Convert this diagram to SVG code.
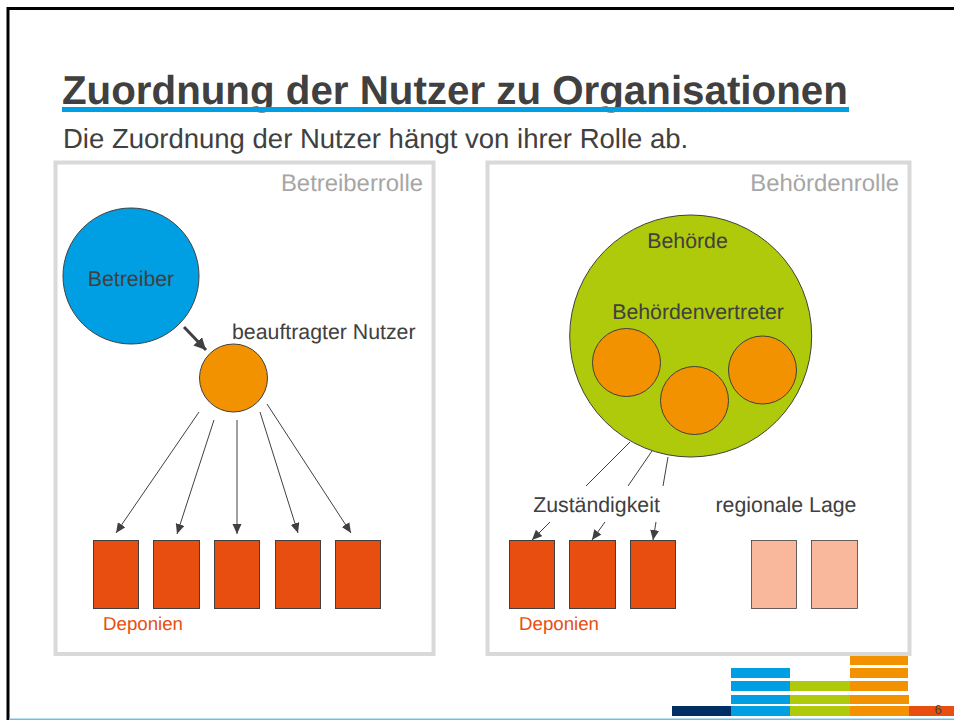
<svg xmlns="http://www.w3.org/2000/svg" width="954" height="720" viewBox="0 0 954 720">
<style>
text{font-family:"Liberation Sans",Arial,sans-serif;fill:#404040;font-size:21.3px;text-rendering:geometricPrecision}
.panel{fill:#fff;stroke:#d9d9d9;stroke-width:4}
.role{fill:#a6a6a6;font-size:23.9px;text-anchor:end}
.red{fill:#e84e0f;stroke:#404040;stroke-width:1}
.pale{fill:#f9b89c;stroke:#404040;stroke-width:.8}
.org{fill:#f39200;stroke:#404040;stroke-width:1}
.dep{font-size:18.700px}
.c{stroke:#404040;stroke-width:1;fill:none}
.a{marker-end:url(#ah)}
</style>
<defs>
<marker id="ah" markerUnits="userSpaceOnUse" markerWidth="11" markerHeight="10" refX="10" refY="4.5" orient="auto"><path d="M0 0L10 4.5L0 9Z" fill="#404040"/></marker>
<marker id="ah2" markerUnits="userSpaceOnUse" markerWidth="13" markerHeight="12" refX="12" refY="6" orient="auto"><path d="M0 0L12 6L0 12Z" fill="#404040"/></marker>
</defs>
<rect width="954" height="720" fill="#fff"/>
<path d="M8 720V8.500H954" fill="none" stroke="#000" stroke-width="3"/>
<rect x="9" y="718.500" width="945" height="1.500" fill="#6fbfe3"/>
<g id="title">
<text x="62" y="104" style="font-size:40.300px;font-weight:bold">Zuordnung der Nutzer zu Organisationen</text>
<rect x="62" y="107" width="787" height="5" fill="#009fe3"/>
<text x="63" y="148" style="font-size:27.500px">Die Zuordnung der Nutzer hängt von ihrer Rolle ab.</text>
</g>
<g id="panel-betreiber"><rect class="panel" x="55.500" y="162.500" width="378" height="491.500"/><text class="role" x="423" y="191">Betreiberrolle</text></g>
<g id="panel-behoerde"><rect class="panel" x="487.500" y="162.500" width="422" height="491.500"/><text class="role" x="899" y="191">Behördenrolle</text></g>
<g id="connectors">
<line class="c" x1="184" y1="327" x2="206" y2="350" style="stroke-width:3;marker-end:url(#ah2)"/>
<line class="c a" x1="199" y1="412" x2="116" y2="533"/>
<line class="c a" x1="214" y1="420" x2="177" y2="534"/>
<line class="c a" x1="237" y1="420" x2="237" y2="534"/>
<line class="c a" x1="260" y1="412" x2="298" y2="533"/>
<line class="c a" x1="267" y1="404" x2="351" y2="533"/>
<line class="c" x1="630" y1="442" x2="586" y2="486"/>
<line class="c" x1="652" y1="451" x2="628" y2="486"/>
<line class="c" x1="668" y1="457" x2="663" y2="486"/>
<line class="c a" x1="550" y1="522" x2="532" y2="540"/>
<line class="c a" x1="605" y1="522" x2="592" y2="540"/>
<line class="c a" x1="656" y1="522" x2="653" y2="540"/>
</g>
<g id="betreiber"><circle cx="131" cy="276" r="68" fill="#009fe3" stroke="#404040"/><text x="131" y="286" text-anchor="middle">Betreiber</text></g>
<g id="nutzer"><circle class="org" cx="233.500" cy="378" r="34"/><text x="232" y="339">beauftragter Nutzer</text></g>
<g id="deponien-1">
<rect class="red" x="93.500" y="540.500" width="45" height="68"/>
<rect class="red" x="153.500" y="540.500" width="46" height="68"/>
<rect class="red" x="214.500" y="540.500" width="45" height="68"/>
<rect class="red" x="275.500" y="540.500" width="45" height="68"/>
<rect class="red" x="335.500" y="540.500" width="45" height="68"/>
<text class="dep" x="103" y="630" style="fill:#e84e0f">Deponien</text>
</g>
<g id="behoerde"><circle cx="690.700" cy="336" r="121" fill="#afca0b" stroke="#404040"/><text x="687.500" y="248" text-anchor="middle">Behörde</text><text x="698" y="319" text-anchor="middle">Behördenvertreter</text></g>
<g id="vertreter-1"><circle class="org" cx="626.500" cy="362.500" r="34"/></g>
<g id="vertreter-2"><circle class="org" cx="694.500" cy="400.500" r="34"/></g>
<g id="vertreter-3"><circle class="org" cx="762.500" cy="370" r="34"/></g>
<g id="labels"><text x="596.500" y="512" text-anchor="middle">Zuständigkeit</text><text x="786" y="512" text-anchor="middle">regionale Lage</text></g>
<g id="deponien-2">
<rect class="red" x="509.500" y="540.500" width="45" height="68"/>
<rect class="red" x="569.500" y="540.500" width="46" height="68"/>
<rect class="red" x="630.500" y="540.500" width="45" height="68"/>
<text class="dep" x="519" y="630" style="fill:#e84e0f">Deponien</text>
</g>
<g id="lagen"><rect class="pale" x="751.500" y="540.500" width="45" height="68"/><rect class="pale" x="811.500" y="540.500" width="46" height="68"/></g>
<g id="logo">
<rect x="850" y="656" width="58" height="9" fill="#f39200"/>
<rect x="731" y="668" width="59" height="10" fill="#009fe3"/><rect x="850" y="668" width="58" height="10" fill="#f39200"/>
<rect x="731" y="681" width="59" height="10" fill="#009fe3"/><rect x="790" y="681" width="60" height="10" fill="#afca0b"/><rect x="850" y="681" width="58" height="10" fill="#f39200"/>
<rect x="731" y="695" width="59" height="9" fill="#009fe3"/><rect x="790" y="695" width="60" height="9" fill="#afca0b"/><rect x="850" y="695" width="59" height="9" fill="#f39200"/>
<rect x="672" y="706" width="59" height="10" fill="#002f66"/><rect x="731" y="706" width="59" height="10" fill="#009fe3"/><rect x="790" y="706" width="60" height="10" fill="#afca0b"/><rect x="850" y="706" width="59" height="10" fill="#f39200"/><rect x="909" y="706" width="45" height="10" fill="#e84e0f"/>
<text x="938" y="714" text-anchor="middle" style="font-size:13px">6</text>
</g>
</svg>
